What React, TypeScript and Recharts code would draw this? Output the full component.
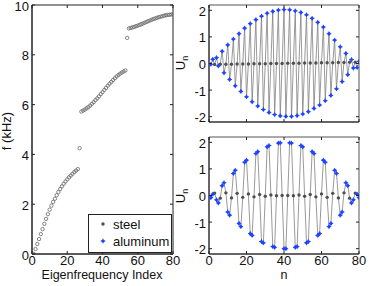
import React from "react";
import { ScatterChart, ComposedChart, Scatter, Line, XAxis, YAxis, ReferenceArea } from "recharts";

const FONT = "'Liberation Sans', Arial, Helvetica, sans-serif";
const INK = "#222";
const BLUE = "#1f44ff";
const STEEL = "#4f4f4f";

// eigenfrequencies in kHz, eigenfrequency index 1..80
const FREQ_KHZ = [
  0.0, 0.2, 0.4, 0.6, 0.8, 1.0, 1.21, 1.41, 1.6, 1.78,
  1.94, 2.09, 2.22, 2.36, 2.49, 2.61, 2.72, 2.82, 2.91, 3.0,
  3.08, 3.15, 3.22, 3.29, 3.35, 3.41, 4.25,
  5.72, 5.76, 5.8, 5.85, 5.9, 5.96, 6.03, 6.1, 6.18, 6.25,
  6.33, 6.42, 6.5, 6.59, 6.67, 6.76, 6.84, 6.91, 6.99, 7.06,
  7.13, 7.19, 7.24, 7.29, 7.33, 7.37,
  8.68,
  9.06, 9.08, 9.1, 9.12, 9.15, 9.17, 9.2, 9.23, 9.26, 9.29,
  9.32, 9.35, 9.38, 9.41, 9.44, 9.46, 9.49, 9.51, 9.53, 9.55,
  9.57, 9.59, 9.6, 9.61, 9.62, 9.62,
];
const FREQ_TICKS = [0, 2, 4, 6, 8, 10];
const INDEX_TICKS = [0, 20, 40, 60, 80];
const U_TICKS = [-2, -1, 0, 1, 2];

// material at site n = 1..80 (a = aluminum, s = steel)
const MATERIAL =
  "aasaasaasaasaasaasaasaasaasaas" +
  "aasaasaasaasaasaasaasaasaasaas" +
  "aasaasaasaasaasaas" +
  "aa";

// mode shape U_n, upper panel
const MODE_TOP = [
  -0.03, 0.16, -0.04, 0.22, -0.09, -0.03, 0.46, -0.35, -0.03, 0.7,
  -0.6, -0.03, 0.92, -0.84, -0.02, 1.12, -1.05, -0.02, 1.33, -1.25,
  -0.02, 1.5, -1.44, -0.01, 1.65, -1.6, -0.01, 1.78, -1.73, -0.01,
  1.89, -1.84, 0.0, 1.96, -1.92, 0.0, 2.01, -1.97, 0.0, 2.03,
  -1.99, 0.01, 2.02, -1.99, 0.01, 1.98, -1.96, 0.01, 1.92, -1.9,
  0.02, 1.83, -1.81, 0.02, 1.7, -1.69, 0.02, 1.55, -1.56, 0.03,
  1.37, -1.4, 0.03, 1.12, -1.2, 0.03, 0.88, -0.95, 0.04, 0.63,
  -0.68, 0.04, 0.38, -0.42, 0.05, 0.15, -0.17, 0.05, -0.15, 0.08,
];

// mode shape U_n, lower panel
const MODE_BOTTOM = [
  -0.08, 0.05, 0.09, -0.16, -0.28, -0.1, 0.37, 0.48, 0.1, -0.62,
  -0.74, -0.09, 0.83, 0.95, 0.08, -1.05, -1.17, -0.07, 1.25, 1.33,
  0.06, -1.43, -1.5, -0.05, 1.58, 1.65, 0.04, -1.73, -1.78, -0.03,
  1.83, 1.88, 0.02, -1.92, -1.95, -0.01, 1.97, 1.98, 0.0, -2.0,
  -2.0, 0.0, 1.98, 1.97, -0.01, -1.95, -1.92, 0.02, 1.88, 1.83,
  -0.03, -1.78, -1.73, 0.04, 1.65, 1.58, -0.05, -1.5, -1.43, 0.06,
  1.33, 1.25, -0.07, -1.17, -1.05, 0.08, 0.95, 0.83, -0.09, -0.74,
  -0.62, 0.1, 0.48, 0.37, -0.1, -0.28, -0.16, 0.09, 0.05, -0.08,
];

const freqRows = FREQ_KHZ.map((f, i) => ({ idx: i + 1, f }));
const modeRows = (u: number[]) => u.map((v, i) => ({ n: i + 1, u: v, m: MATERIAL[i] }));
const topRows = modeRows(MODE_TOP);
const bottomRows = modeRows(MODE_BOTTOM);

const tickText = { fontSize: 13, fill: "#111", fontFamily: FONT };

// inward ticks on both sides of the box, matlab style
const YTick = (props: any) => {
  const { x, y, payload, span } = props;
  return (
    <g>
      <line x1={x} x2={x + 3} y1={y} y2={y} stroke={INK} />
      <line x1={x + span} x2={x + span - 3} y1={y} y2={y} stroke={INK} />
      <text x={x - 3} y={y + 5.5} textAnchor="end" {...tickText}>
        {payload.value}
      </text>
    </g>
  );
};

const XTick = (props: any) => {
  const { x, y, payload, span, label } = props;
  return (
    <g>
      <line x1={x} x2={x} y1={y} y2={y - 3} stroke={INK} />
      <line x1={x} x2={x} y1={y - span} y2={y - span + 3} stroke={INK} />
      {label && (
        <text x={x} y={y + 10.5} textAnchor="middle" {...tickText}>
          {payload.value}
        </text>
      )}
    </g>
  );
};

const OpenCircle = (p: any) => (
  <circle cx={p.cx} cy={p.cy} r={1.7} fill="none" stroke="#666" strokeWidth={0.8} />
);
const SteelDot = (p: any) => <circle cx={p.cx} cy={p.cy} r={1.7} fill={STEEL} />;
const AlDot = (p: any) => (
  <g>
    <circle cx={p.cx} cy={p.cy} r={1.6} fill={BLUE} />
    <path
      d={`M${p.cx - 2.3},${p.cy}H${p.cx + 2.3}M${p.cx},${p.cy - 2.3}V${p.cy + 2.3}`}
      stroke={BLUE}
      strokeWidth={1}
    />
  </g>
);

// axes are 1px thick, margins make up the rest
function ModePanel({ rows, height, top, bottom, showX }: any) {
  const plotH = height - top - bottom;
  return (
    <ComposedChart
      width={184}
      height={height}
      data={rows}
      margin={{ top, right: 15, bottom: bottom - 1, left: 18 }}
    >
      <XAxis
        type="number"
        dataKey="n"
        domain={[0, 80]}
        ticks={INDEX_TICKS}
        interval={0}
        height={1}
        tickSize={0}
        tickMargin={0}
        tickLine={false}
        axisLine={{ stroke: INK }}
        tick={<XTick span={plotH} label={showX} />}
        allowDataOverflow
      />
      <YAxis
        type="number"
        dataKey="u"
        domain={[-2.2, 2.2]}
        ticks={U_TICKS}
        interval={0}
        width={1}
        tickSize={0}
        tickMargin={0}
        tickLine={false}
        axisLine={{ stroke: INK }}
        tick={<YTick span={150} />}
        allowDataOverflow
      />
      <ReferenceArea x1={0} x2={80} y1={-2.2} y2={2.2} fill="none" stroke="#555" />
      <Line
        type="linear"
        dataKey="u"
        stroke="#808080"
        strokeWidth={0.8}
        dot={false}
        activeDot={false}
        isAnimationActive={false}
      />
      <Scatter
        data={rows.filter((r: any) => r.m === "s")}
        dataKey="u"
        shape={SteelDot}
        isAnimationActive={false}
      />
      <Scatter
        data={rows.filter((r: any) => r.m === "a")}
        dataKey="u"
        shape={AlDot}
        isAnimationActive={false}
      />
    </ComposedChart>
  );
}

const axisTitle: React.CSSProperties = {
  position: "absolute",
  fontFamily: FONT,
  fontSize: 12.5,
  color: "#111",
  lineHeight: "10px",
  whiteSpace: "nowrap",
};

const rotated = (x: number, y: number): React.CSSProperties => ({
  ...axisTitle,
  fontSize: 13,
  lineHeight: 1,
  left: x,
  top: y,
  transform: "translate(-50%, -50%) rotate(-90deg)",
});

export default function App() {
  return (
    <div style={{ position: "absolute", left: 0, top: 0, width: 374, height: 286, background: "#fff" }}>
      <div style={{ position: "absolute", left: 0, top: 0 }}>
        <ScatterChart width={190} height={286} margin={{ top: 5, right: 17, bottom: 31, left: 31 }}>
          <XAxis
            type="number"
            dataKey="idx"
            domain={[0, 80]}
            ticks={INDEX_TICKS}
            interval={0}
            height={1}
            tickSize={0}
            tickMargin={0}
            tickLine={false}
            axisLine={{ stroke: INK }}
            tick={<XTick span={249} label />}
            allowDataOverflow
          />
          <YAxis
            type="number"
            dataKey="f"
            domain={[0, 10]}
            ticks={FREQ_TICKS}
            interval={0}
            width={1}
            tickSize={0}
            tickMargin={0}
            tickLine={false}
            axisLine={{ stroke: INK }}
            tick={<YTick span={141} />}
            allowDataOverflow
          />
          <ReferenceArea x1={0} x2={80} y1={0} y2={10} fill="none" stroke={INK} />
          <Scatter data={freqRows} dataKey="f" shape={OpenCircle} isAnimationActive={false} />
        </ScatterChart>
      </div>

      <div style={{ position: "absolute", left: 190, top: 0 }}>
        <ModePanel rows={topRows} height={131} top={5} bottom={9} showX={false} />
      </div>
      <div style={{ position: "absolute", left: 190, top: 131 }}>
        <ModePanel rows={bottomRows} height={155} top={6} bottom={32} showX />
      </div>

      <div style={rotated(6, 131)}>f (kHz)</div>
      <div style={{ ...axisTitle, left: 102, top: 269.5, transform: "translateX(-50%)" }}>
        Eigenfrequency Index
      </div>
      <div style={{ ...axisTitle, left: 284, top: 269.5, transform: "translateX(-50%)" }}>n</div>
      <div style={rotated(182, 63)}>
        U<sub style={{ fontSize: 9 }}>n</sub>
      </div>
      <div style={rotated(182, 196)}>
        U<sub style={{ fontSize: 9 }}>n</sub>
      </div>

      {/* legend box */}
      <div
        style={{
          position: "absolute",
          left: 88,
          top: 214,
          width: 84,
          height: 39,
          boxSizing: "border-box",
          border: `1px solid ${INK}`,
          background: "#fff",
          fontFamily: FONT,
          fontSize: 13,
          color: "#111",
        }}
      >
        <svg width={10} height={10} style={{ position: "absolute", left: 9, top: 4 }}>
          <SteelDot cx={5} cy={5} />
        </svg>
        <div style={{ position: "absolute", left: 24, top: 3, lineHeight: 1 }}>steel</div>
        <svg width={10} height={10} style={{ position: "absolute", left: 9, top: 21 }}>
          <AlDot cx={5} cy={5} />
        </svg>
        <div style={{ position: "absolute", left: 24, top: 20, lineHeight: 1 }}>aluminum</div>
      </div>
    </div>
  );
}
